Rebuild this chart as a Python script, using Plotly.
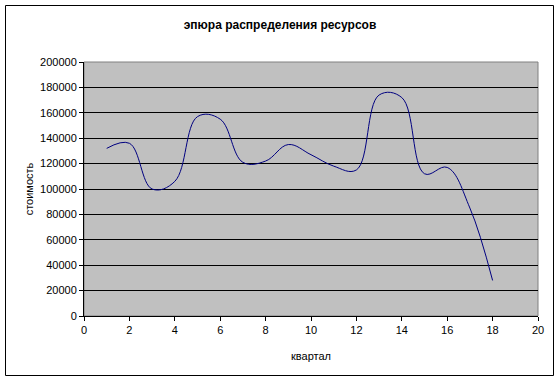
import plotly.graph_objects as go

quarters = list(range(1, 19))
cost = [132000, 136000, 100000, 106000, 157000, 155000, 121000, 122000, 135000,
        127000, 118000, 115000, 174000, 172000, 112000, 117000, 85000, 28000]

title_text = "эпюра распределения ресурсов"
x_title = "квартал"
y_title = "стоимость"

L, R, T, B = 84, 22, 62, 65
W, H = 560, 381
pw, ph = W - L - R, H - T - B

def px_x(p):
    return (p - L) / pw

def px_y(p):
    return (H - B - p) / ph

fig = go.Figure()
fig.add_trace(go.Scatter(
    x=quarters, y=cost, mode="lines",
    line=dict(color="#000080", width=1, shape="spline", smoothing=1.1),
    hoverinfo="x+y", showlegend=False,
))

font = dict(family="Liberation Sans, Arial, sans-serif", size=11, color="black")

fig.update_layout(
    width=W, height=H,
    margin=dict(l=L, r=R, t=T, b=B),
    paper_bgcolor="white",
    plot_bgcolor="#C0C0C0",
    font=font,
    title=dict(text="<b>" + title_text + "</b>", x=0.5, xref="container", xanchor="center",
               y=1 - 25 / H, yref="container", yanchor="middle",
               font=dict(family="Liberation Sans, Arial, sans-serif", size=12, color="black")),
    xaxis=dict(range=[0, 20], dtick=2, tick0=0, showgrid=False, zeroline=False,
               showline=True, linecolor="black", linewidth=1,
               ticks="outside", ticklen=4, tickcolor="black",
               title=dict(text=x_title, standoff=17, font=font)),
    yaxis=dict(range=[0, 200000], dtick=20000, tick0=0, showgrid=True,
               tickformat="d",
               gridcolor="black", gridwidth=1, zeroline=False,
               showline=True, linecolor="black", linewidth=1,
               ticks="outside", ticklen=4, tickcolor="black",
               title=dict(text=y_title, standoff=4, font=font)),
    shapes=[
        dict(type="rect", xref="paper", yref="paper", x0=0, x1=1, y0=0, y1=1,
             line=dict(color="#808080", width=1), layer="between"),
        dict(type="rect", xref="paper", yref="paper",
             x0=px_x(5.5), x1=px_x(553.5), y0=px_y(375.5), y1=px_y(5.5),
             line=dict(color="black", width=1), layer="above"),
    ],
)

fig.write_html("out.html")
